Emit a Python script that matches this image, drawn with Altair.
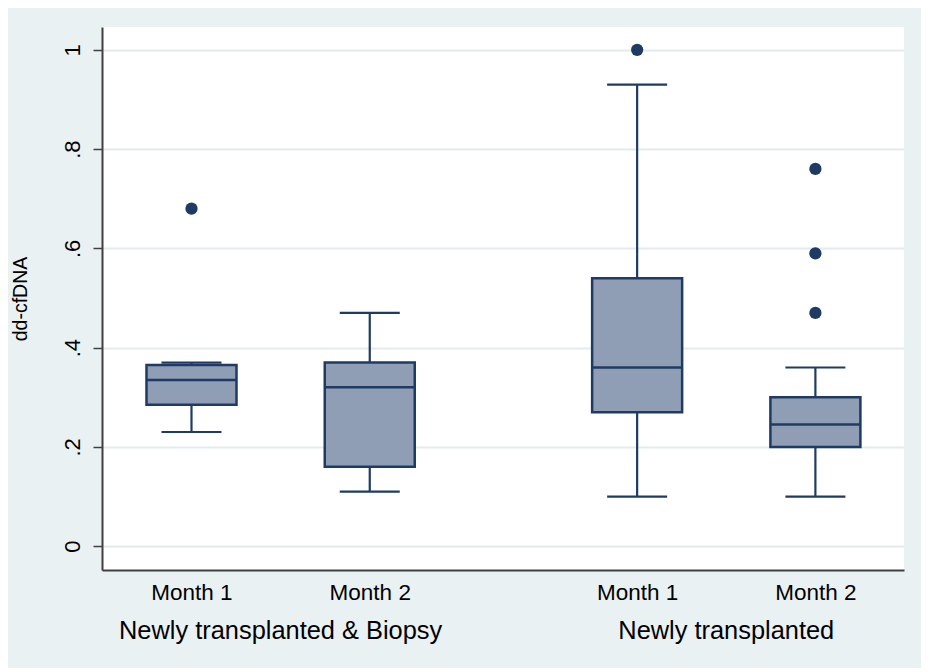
import altair as alt
import pandas as pd

# ---- data ----
slots = [1, 2, 3.5, 4.5]
months = ["Month 1", "Month 2", "Month 1", "Month 2"]
groups = ["Newly transplanted & Biopsy", "Newly transplanted & Biopsy",
          "Newly transplanted", "Newly transplanted"]
lower_whisker = [0.23, 0.11, 0.10, 0.10]
q1 = [0.285, 0.16, 0.27, 0.20]
median = [0.335, 0.32, 0.36, 0.245]
q3 = [0.365, 0.37, 0.54, 0.30]
upper_whisker = [0.37, 0.47, 0.93, 0.36]

outlier_slot = [1, 3.5, 4.5, 4.5, 4.5]
outlier_val = [0.68, 1.0, 0.76, 0.59, 0.47]

group_names = ["Newly transplanted & Biopsy", "Newly transplanted"]
group_slot = [1.5, 4.0]

y_ticks = [0, 0.2, 0.4, 0.6, 0.8, 1.0]

# ---- styling ----
NAVY = "#1F3B63"
FILL = "#8F9EB4"
BG = "#EAF1F3"
GRID = "#E3EBEF"
FONT = "Liberation Sans"
W, H = 802, 543

boxes = pd.DataFrame({"slot": slots, "month": months, "group": groups,
                      "lo": lower_whisker, "q1": q1, "med": median,
                      "q3": q3, "hi": upper_whisker})
outl = pd.DataFrame({"slot": outlier_slot, "val": outlier_val})
glab = pd.DataFrame({"slot": group_slot, "name": group_names})

xscale = alt.Scale(domain=[0.526, 4.969], nice=False, zero=False)
yscale = alt.Scale(domain=[-0.048, 1.046], nice=False, zero=False)

month_expr = ("datum.value == 1 || datum.value == 3.5 ? 'Month 1' : "
              "(datum.value == 2 || datum.value == 4.5 ? 'Month 2' : '')")

xaxis = alt.Axis(values=slots, labelExpr=month_expr, ticks=False, grid=False,
                 title=None, domainColor="#404040", domainWidth=2,
                 labelFont=FONT, labelFontSize=22.5, labelColor="#000000",
                 labelPadding=11, labelBaseline="top")
yaxis = alt.Axis(values=y_ticks, grid=True, gridColor=GRID, gridWidth=2,
                 labelExpr="datum.value == 0 ? '0' : (datum.value == 1 ? '1' : replace(format(datum.value, '.1f'), '0.', '.'))",
                 labelAngle=270, labelAlign="center", labelBaseline="bottom",
                 labelFont=FONT, labelFontSize=22, labelColor="#000000",
                 labelPadding=9, tickSize=9, tickColor="#404040", tickWidth=1.5,
                 domainColor="#404040", domainWidth=2,
                 title="dd-cfDNA", titleFont=FONT, titleFontSize=19.5,
                 titleFontWeight="normal", titleColor="#000000",
                 titleAngle=270, titleAlign="center", titleBaseline="middle",
                 titleX=-82, titleY=H / 2)

base = alt.Chart(boxes)

whisk_lo = base.mark_rule(color=NAVY, strokeWidth=2.2).encode(
    x=alt.X("slot:Q", scale=xscale, axis=xaxis),
    y=alt.Y("lo:Q", scale=yscale, axis=yaxis),
    y2="q1:Q")
whisk_hi = base.mark_rule(color=NAVY, strokeWidth=2.2).encode(
    x="slot:Q", y="q3:Q", y2="hi:Q")
cap_lo = base.mark_tick(orient="horizontal", size=60, thickness=2.2, color=NAVY, opacity=1).encode(
    x="slot:Q", y="lo:Q")
cap_hi = base.mark_tick(orient="horizontal", size=60, thickness=2.2, color=NAVY, opacity=1).encode(
    x="slot:Q", y="hi:Q")
box = base.mark_bar(size=90, fill=FILL, stroke=NAVY, strokeWidth=2.5, opacity=1).encode(
    x="slot:Q", y="q1:Q", y2="q3:Q")
med = base.mark_tick(orient="horizontal", size=90, thickness=2.5, color=NAVY, opacity=1).encode(
    x="slot:Q", y="med:Q")
pts = alt.Chart(outl).mark_circle(size=150, color=NAVY, opacity=1).encode(
    x="slot:Q", y="val:Q")
gtext = alt.Chart(glab).mark_text(font=FONT, fontSize=25.4, color="#000000",
                                  baseline="middle", align="center").encode(
    x="slot:Q", y=alt.value(H + 61), text="name:N")

chart = alt.layer(whisk_lo, whisk_hi, cap_lo, cap_hi, box, med, pts, gtext).properties(
    width=W, height=H,
    background=BG,
    padding={"left": 94, "top": 19, "right": 17, "bottom": 98},
    autosize=alt.AutoSizeParams(type="none"),
).configure_view(fill="#FFFFFF", stroke=None)

chart.save("out.html", embed_options={"renderer": "svg", "actions": False})
